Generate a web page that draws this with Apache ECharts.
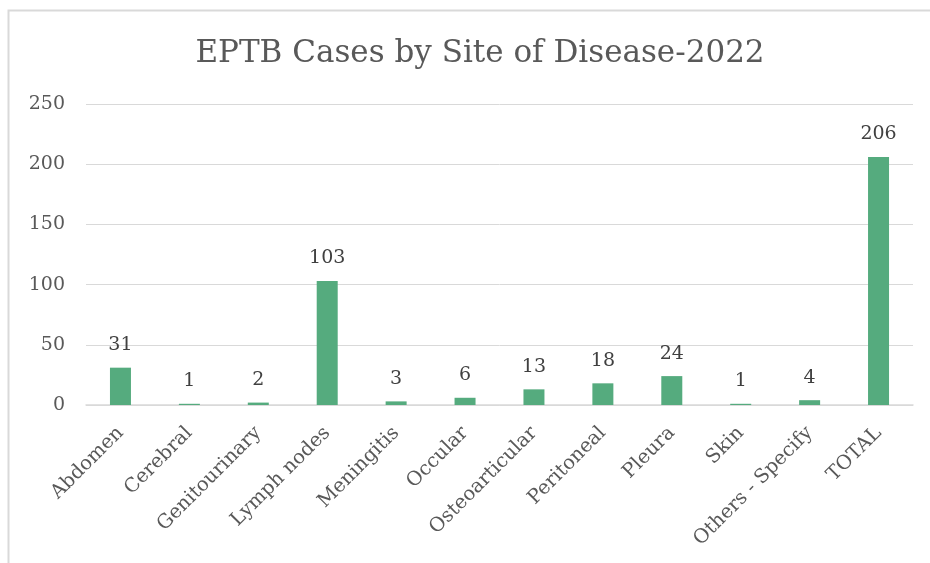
<!DOCTYPE html>
<html>
<head>
<meta charset="utf-8">
<script src="https://cdn.jsdelivr.net/npm/echarts@6/dist/echarts.min.js"></script>
<style>
  html, body { margin: 0; padding: 0; background: #fff; }
  #chart { width: 930px; height: 563px; }
</style>
</head>
<body>
<div id="chart"></div>
<script>
// sites of disease and case counts, 2022
const sites = ['Abdomen', 'Cerebral', 'Genitourinary', 'Lymph nodes', 'Meningitis', 'Occular',
  'Osteoarticular', 'Peritoneal', 'Pleura', 'Skin', 'Others - Specify', 'TOTAL']
const cases = [31, 1, 2, 103, 3, 6, 13, 18, 24, 1, 4, 206]
const yTicks = [0, 50, 100, 150, 200, 250]

const font = 'DejaVu Serif'
const textColor = '#595959'

let myChart = echarts.init(document.getElementById('chart'))
let option = {
  animation: false,
  title: {
    text: 'EPTB Cases by Site of Disease-2022',
    left: 475,
    textAlign: 'center',
    top: 33,
    textStyle: { fontFamily: font, fontSize: 31, fontWeight: 'normal', color: textColor }
  },
  graphic: [{
    type: 'rect',
    shape: { x: 8.5, y: 10.5, width: 940, height: 600 },
    style: { fill: 'none', stroke: '#D9D9D9', lineWidth: 2 },
    silent: true
  }],
  grid: { left: 86, right: 17, top: 104, bottom: 158 },
  xAxis: {
    type: 'category',
    data: sites,
    axisTick: { show: false },
    axisLine: { lineStyle: { color: '#D9D9D9', width: 1.5 } },
    axisLabel: {
      rotate: 45, interval: 0, margin: 25,
      fontFamily: font, fontSize: 19.5, color: textColor
    }
  },
  yAxis: {
    type: 'value',
    min: yTicks[0],
    max: yTicks[yTicks.length - 1],
    interval: 50,
    axisLine: { show: false },
    axisTick: { show: false },
    splitLine: { lineStyle: { color: '#D9D9D9', width: 1 } },
    axisLabel: { margin: 21, fontFamily: font, fontSize: 19, color: textColor }
  },
  series: [{
    type: 'bar',
    data: cases,
    barWidth: 21,
    itemStyle: { color: '#55AB7E' },
    label: {
      show: true, position: 'top', distance: 13,
      fontFamily: font, fontSize: 19, color: '#404040'
    }
  }]
}
myChart.setOption(option)
</script>
</body>
</html>
